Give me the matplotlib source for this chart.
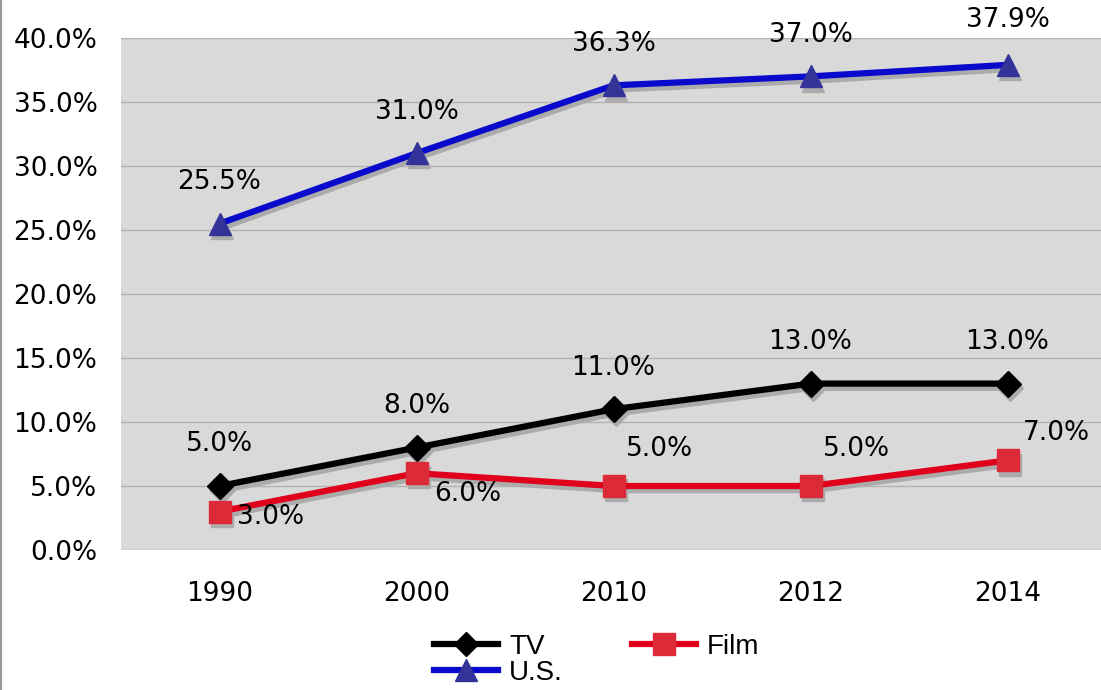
import matplotlib
matplotlib.use("Agg")
import matplotlib.pyplot as plt
import matplotlib.transforms as mtransforms
from matplotlib.lines import Line2D

years = ["1990", "2000", "2010", "2012", "2014"]
tv = [5.0, 8.0, 11.0, 13.0, 13.0]
film = [3.0, 6.0, 5.0, 5.0, 7.0]
us = [25.5, 31.0, 36.3, 37.0, 37.9]

# label offsets in points (dx, dy)
tv_offsets = [(0, 30), (0, 30), (0, 30), (0, 30), (0, 30)]
film_offsets = [(37, -4), (37, -15), (33, 27), (33, 27), (35, 20)]
us_offsets = [(0, 30), (0, 30), (0, 30), (0, 30), (0, 32)]

plt.rcParams['font.family'] = ['DejaVu Sans']

fig = plt.figure(figsize=(11.01, 6.9), dpi=100)
ax = fig.add_axes([121 / 1101, 140 / 690, 985 / 1101, 512 / 690])
ax.set_facecolor('#d9d9d9')
x = list(range(len(years)))

shadow = ax.transData + mtransforms.ScaledTranslation(1.5 / 72, -3 / 72, fig.dpi_scale_trans)

series = [
    (tv, 'TV', 'black', 'black', 'D', 13, tv_offsets),
    (film, 'Film', '#e0001b', '#dc2a38', 's', 16, film_offsets),
    (us, 'U.S.', '#0a0acc', '#333399', '^', 16, us_offsets),
]

for vals, name, lc, mc, mk, ms, offs in series:
    ax.plot(x, vals, color='#ababab', lw=4.5, marker=mk, ms=ms,
            markerfacecolor='#ababab', markeredgecolor='#ababab',
            transform=shadow, zorder=2, solid_joinstyle='miter')
    ax.plot(x, vals, color=lc, lw=4.5, marker=mk, ms=ms,
            markerfacecolor=mc, markeredgecolor=mc, zorder=3, label=name,
            solid_joinstyle='miter')
    for xi, v, (dx, dy) in zip(x, vals, offs):
        ax.annotate(f"{v:.1f}%", (xi, v), xytext=(dx, dy), textcoords='offset points',
                    ha='center', va='center', fontsize=19, zorder=4)

ax.set_xlim(-0.5, 4.5)
ax.set_ylim(0, 40)
ax.set_yticks([0, 5, 10, 15, 20, 25, 30, 35, 40])
ax.set_yticklabels([f"{t:.1f}%" for t in ax.get_yticks()])
ax.set_xticks(x)
ax.set_xticklabels(years)
ax.tick_params(axis='both', length=0, labelsize=19)
ax.tick_params(axis='y', pad=17)
ax.tick_params(axis='x', pad=22)
ax.grid(axis='y', color='#b2b2b2', lw=1.0)
ax.set_axisbelow(True)
for s in ax.spines.values():
    s.set_visible(False)

handles = [
    Line2D([], [], color='black', lw=4.5, marker='D', ms=12, markerfacecolor='black'),
    Line2D([], [], color='#0a0acc', lw=4.5, marker='^', ms=16, markerfacecolor='#333399', markeredgecolor='#333399'),
    Line2D([], [], color='#e0001b', lw=4.5, marker='s', ms=16, markerfacecolor='#dc2a38', markeredgecolor='#dc2a38'),
]
fig.legend(handles, ['TV', 'U.S.', 'Film'], ncol=2, loc='center left', bbox_to_anchor=(409 / 1101, 1 - 660 / 690),
           frameon=False, handlelength=2.3, handletextpad=0.4,
           labelspacing=0.0, columnspacing=2.5, prop={'family': 'Liberation Sans', 'size': 20})

fig.add_artist(Line2D([0.001, 0.001], [0, 1], transform=fig.transFigure, color='#999999', lw=1.5))

fig.savefig('out.png', dpi=100)
